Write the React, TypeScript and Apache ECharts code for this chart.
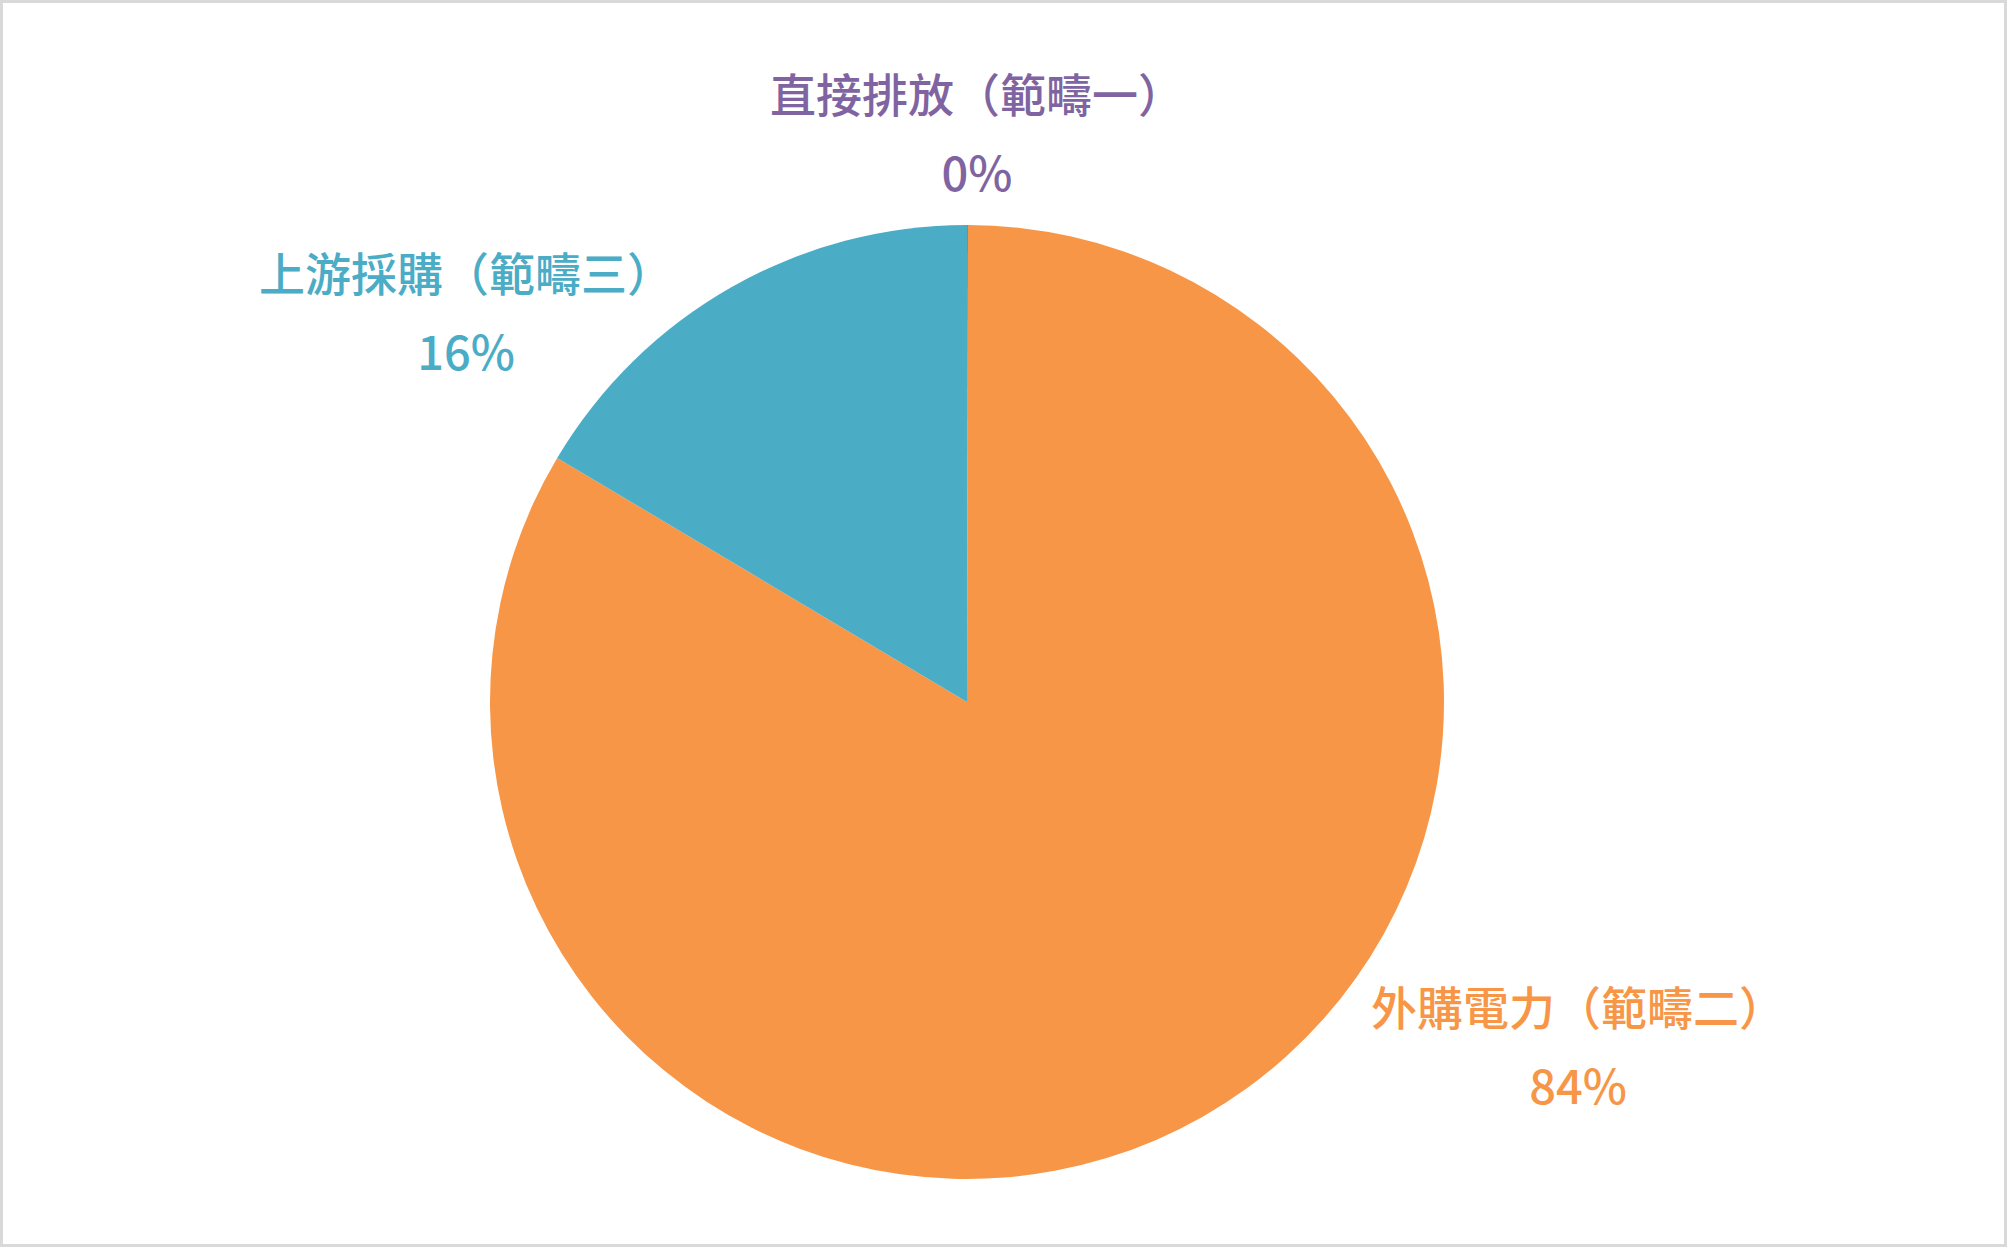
import React, { useEffect, useRef } from "react";
import * as echarts from "echarts";

const categories = ["直接排放（範疇一）", "外購電力（範疇二）", "上游採購（範疇三）"];
const values = [0.03, 83.52, 16.45];
const colors = ["#8064A2", "#F79646", "#4BACC6"];

// label block centres (text placement only)
const labelCentres: [number, number][] = [
  [977, 131],
  [1578, 1044],
  [466, 310],
];

export default function App() {
  const ref = useRef<HTMLDivElement>(null);
  useEffect(() => {
    if (!ref.current) return;
    const chart = echarts.init(ref.current, undefined, { renderer: "svg" });
    const font = "'Noto Sans CJK TC', 'Noto Sans', sans-serif";
    chart.setOption({
      animation: false,
      backgroundColor: "#FFFFFF",
      graphic: [
        {
          type: "rect",
          shape: { x: 1.5, y: 1.5, width: 2004, height: 1244 },
          style: { fill: "none", stroke: "#D9D9D9", lineWidth: 3 },
          silent: true,
        },
      ],
      series: [
        {
          type: "pie",
          center: [967, 702],
          radius: [0, 477],
          startAngle: 90,
          clockwise: true,
          avoidLabelOverlap: false,
          minShowLabelAngle: 0,
          itemStyle: { borderWidth: 0 },
          labelLine: { show: false },
          label: {
            show: true,
            position: "outside",
            fontFamily: font,
            fontWeight: 500,
            formatter: (p: any) => `{n|${p.name}}\n{p|${Math.round(p.percent)}%}`,
            rich: {
              n: { fontSize: 46, lineHeight: 79, fontFamily: font, fontWeight: 500, align: "center" },
              p: { fontSize: 47, lineHeight: 79, fontFamily: font, fontWeight: 500, align: "center" },
            },
          },
          labelLayout: (params: any) => {
            const c = labelCentres[params.dataIndex];
            return { x: c[0], y: c[1], align: "center", verticalAlign: "middle" };
          },
          data: categories.map((name, i) => ({
            name,
            value: values[i],
            itemStyle: { color: colors[i] },
            label: { color: colors[i] },
          })),
        },
      ],
    });
    return () => chart.dispose();
  }, []);
  return (
    <div
      ref={ref}
      style={{ position: "absolute", left: 0, top: 0, width: 2007, height: 1247 }}
    />
  );
}
